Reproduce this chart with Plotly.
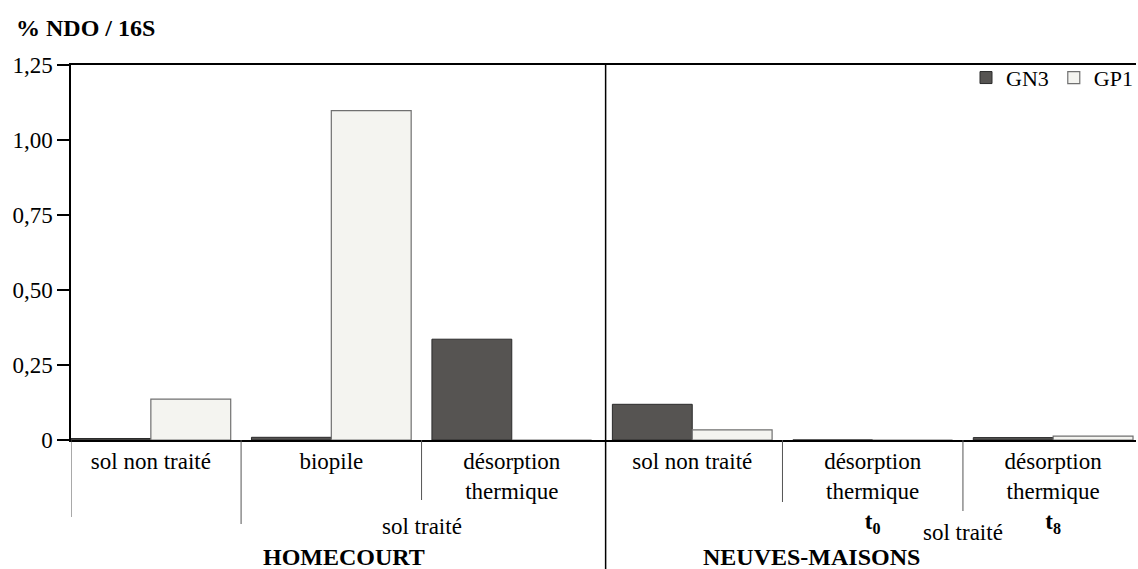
import plotly.graph_objects as go

# Sites and soil treatments (one bar pair per treatment)
sites = ["HOMECOURT", "HOMECOURT", "HOMECOURT",
         "NEUVES-MAISONS", "NEUVES-MAISONS", "NEUVES-MAISONS"]
treatments = ["sol non traité", "biopile", "désorption thermique",
              "sol non traité", "désorption thermique t0", "désorption thermique t8"]
tick_labels = ["sol non traité", "biopile", "désorption<br>thermique",
               "sol non traité", "désorption<br>thermique<br><b>t<sub>0</sub></b>",
               "désorption<br>thermique<br><b>t<sub>8</sub></b>"]

# % NDO / 16S for each gene
gn3 = [0.005, 0.009, 0.336, 0.119, 0.0, 0.008]
gp1 = [0.136, 1.098, 0.0, 0.034, 0.0, 0.013]

y_ticks = [0, 0.25, 0.5, 0.75, 1.0, 1.25]
y_tick_labels = ["0", "0,25", "0,50", "0,75", "1,00", "1,25"]

categories = [f"{s} | {t}" for s, t in zip(sites, treatments)]

SERIF = "'Times New Roman', 'Liberation Serif', serif"

fig = go.Figure()
fig.add_trace(go.Bar(
    name="GN3", x=categories, y=gn3,
    marker=dict(color="#565452", line=dict(color="#2b2b2b", width=1)),
))
fig.add_trace(go.Bar(
    name="GP1", x=categories, y=gp1,
    marker=dict(color="#f4f4f0", line=dict(color="#707070", width=1.2)),
))

fig.update_layout(
    width=1138, height=569,
    margin=dict(l=71, r=0, t=65, b=129),
    paper_bgcolor="white", plot_bgcolor="white",
    barmode="group", bargap=0.115, bargroupgap=0,
    font=dict(family=SERIF, size=23, color="black"),
    showlegend=True,
    legend=dict(orientation="h", x=1.002, xanchor="right", y=1.022, yanchor="top",
                bgcolor="rgba(0,0,0,0)", font=dict(family=SERIF, size=22),
                itemwidth=30, tracegroupgap=0),
)

fig.update_xaxes(
    type="category", categoryorder="array", categoryarray=categories,
    range=[-0.4425, 5.459],
    tickmode="array", tickvals=categories, ticktext=tick_labels,
    ticks="", showgrid=False, zeroline=False,
    showline=True, mirror=True, linecolor="black", linewidth=1.5,
    tickfont=dict(family=SERIF, size=23),
)
fig.update_yaxes(
    range=[0, 1.25], tickmode="array", tickvals=y_ticks, ticktext=y_tick_labels,
    ticks="outside", ticklen=12, tickwidth=1.5, tickcolor="black",
    showline=True, linecolor="black", linewidth=1.5,
    showgrid=False, zeroline=False, tickfont=dict(family=SERIF, size=23),
)

# Group separators below the category axis
def vline(x, y0, y1, width=1, color="#555"):
    fig.add_shape(type="line", xref="x", yref="paper", x0=x, x1=x, y0=y0, y1=y1,
                  line=dict(color=color, width=width))

px_to_paper = lambda py: (440 - py) / 375
vline(-0.4425, 0, px_to_paper(517))
vline(0.5, 0, px_to_paper(524))
vline(1.5, 0, px_to_paper(500))
vline(3.5, 0, px_to_paper(502))
vline(4.5, 0, px_to_paper(511))
# Site divider across the full height
vline(2.52, 1, px_to_paper(569), width=1.5, color="black")

annotations = [
    dict(text="sol traité", x=1.5, y=px_to_paper(526), size=23),
    dict(text="sol traité", x=4.5, y=px_to_paper(532), size=23),
    dict(text="<b>HOMECOURT</b>", x=1.07, y=px_to_paper(557), size=24),
    dict(text="<b>NEUVES-MAISONS</b>", x=3.66, y=px_to_paper(557), size=24),
]
for a in annotations:
    size = a.pop("size")
    fig.add_annotation(xref="x", yref="paper", showarrow=False,
                       xanchor="center", yanchor="middle",
                       font=dict(size=size, family=SERIF), **a)

fig.add_annotation(text="<b>% NDO / 16S</b>", xref="paper", yref="paper",
                   x=-57 / 1067, y=px_to_paper(28), xanchor="left", yanchor="middle",
                   showarrow=False, font=dict(size=24, family=SERIF))

fig.write_html("out.html")
